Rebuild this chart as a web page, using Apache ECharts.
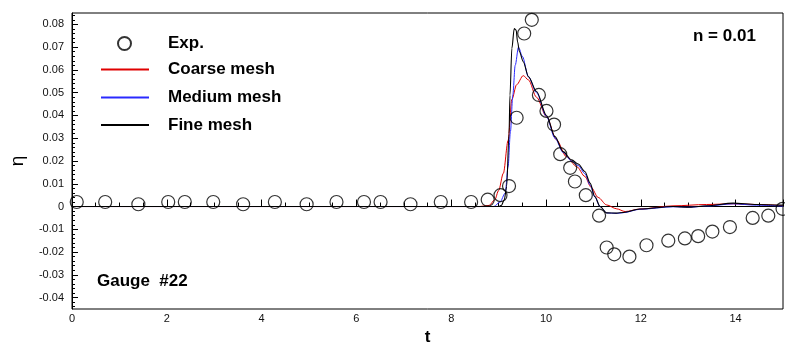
<!DOCTYPE html>
<html>
<head>
<meta charset="utf-8">
<script src="https://cdn.jsdelivr.net/npm/echarts@6/dist/echarts.min.js"></script>
<style>
  html, body { margin: 0; padding: 0; background: #fff; }
  #chart { width: 785px; height: 347px; }
</style>
</head>
<body>
<div id="chart"></div>
<script>
// Measured free-surface elevation at gauge #22
const expT = [0.1, 0.7, 1.4, 2.03, 2.38, 2.98, 3.61, 4.28, 4.95, 5.58, 6.16, 6.51, 7.14, 7.78, 8.42,
  8.77, 9.04, 9.22, 9.38, 9.54, 9.70, 9.85, 10.01, 10.17, 10.30, 10.51, 10.61, 10.84, 11.12,
  11.28, 11.44, 11.76, 12.12, 12.58, 12.93, 13.21, 13.51, 13.88, 14.36, 14.69, 14.99];
const expEta = [0.002, 0.002, 0.001, 0.002, 0.002, 0.002, 0.001, 0.002, 0.001, 0.002, 0.002, 0.002, 0.001, 0.002, 0.002,
  0.003, 0.005, 0.009, 0.039, 0.076, 0.082, 0.049, 0.042, 0.036, 0.023, 0.017, 0.011, 0.005, -0.004,
  -0.018, -0.021, -0.022, -0.017, -0.015, -0.014, -0.013, -0.011, -0.009, -0.005, -0.004, -0.001];

// Coarse mesh simulation
const coarseT = [0, 8.6, 8.8, 8.92, 9.0, 9.1, 9.2, 9.28, 9.38, 9.52, 9.63, 9.8, 10.01, 10.22, 10.43,
  10.65, 10.82, 10.95, 11.1, 11.28, 11.49, 11.67, 11.98, 12.68, 13.39, 13.95, 14.44, 15];
const coarseEta = [0, 0, 0.0005, 0.003, 0.007, 0.0146, 0.029, 0.047, 0.0535, 0.0575, 0.0556, 0.048, 0.0395, 0.0293, 0.0219,
  0.0175, 0.0132, 0.0085, 0.004, 0.0007, -0.001, -0.0022, -0.0011, 0.0003, 0.0009, 0.0012, 0.0009, 0.0004];

// Medium mesh simulation
const mediumT = [0, 8.9, 9.03, 9.14, 9.2, 9.25, 9.30, 9.35, 9.42, 9.5, 9.63, 9.8, 10.01, 10.19, 10.36,
  10.54, 10.68, 10.82, 10.93, 11.03, 11.14, 11.28, 11.49, 11.63, 11.98, 12.68, 13.03, 13.39, 13.95, 14.44, 15];
const mediumEta = [0, 0, 0.002, 0.0059, 0.0175, 0.033, 0.049, 0.062, 0.070, 0.066, 0.057, 0.050, 0.0395, 0.030, 0.0238,
  0.0200, 0.0180, 0.0145, 0.0095, 0.0042, 0.0, -0.0028, -0.003, -0.0027, -0.0012, -0.0001, -0.0003, 0.0002, 0.0012, 0.0006, 0.0002];

// Fine mesh simulation
const fineT = [0, 9.0, 9.06, 9.12, 9.17, 9.22, 9.24, 9.28, 9.33, 9.37, 9.40, 9.44, 9.52, 9.63, 9.8,
  10.01, 10.19, 10.36, 10.54, 10.68, 10.82, 10.93, 11.03, 11.14, 11.28, 11.49, 11.63, 11.98, 12.68,
  13.03, 13.39, 13.95, 14.44, 15];
const fineEta = [0, 0, 0.0005, 0.003, 0.0088, 0.032, 0.049, 0.0695, 0.0782, 0.0775, 0.0724, 0.068, 0.0636, 0.057, 0.0505,
  0.040, 0.0307, 0.0241, 0.0205, 0.0187, 0.0154, 0.0103, 0.0044, 0.0, -0.0028, -0.0029, -0.0026, -0.0011, 0.0,
  -0.0003, 0.0003, 0.0015, 0.0009, 0.0006];

// Axis ticks
const yTicks = [-0.04, -0.03, -0.02, -0.01, 0, 0.01, 0.02, 0.03, 0.04, 0.05, 0.06, 0.07, 0.08];
const yMinorStep = 0.002;
const xTicks = [0, 2, 4, 6, 8, 10, 12, 14];

const FONT = 'Liberation Sans, Arial, Helvetica, sans-serif';
const yMin = -0.045, yMax = 0.085;

const RED = '#e00000', BLUE = '#2a2aff', BLACK = '#000';

const pairs = (xs, ys) => xs.map((x, i) => [x, ys[i]]);

// minor tick positions between the labelled ones
const yMinor = [];
for (let v = Math.round(yMin / yMinorStep); v <= Math.round(yMax / yMinorStep); v++) {
  const val = +(v * yMinorStep).toFixed(4);
  if (Math.abs(val * 100 - Math.round(val * 100)) > 1e-6) yMinor.push(val);
}

const chart = echarts.init(document.getElementById('chart'), null, { renderer: 'canvas' });

const legendText = { fontFamily: FONT, fontSize: 17, fontWeight: 'bold', color: '#000' };
// line-only legend entries: the marker dot is made fully transparent
const lineLegend = (name, top) => ({
  left: 95, top: top, orient: 'vertical',
  itemWidth: 48, itemHeight: 14,
  data: [name],
  itemStyle: { opacity: 0 },
  textStyle: Object.assign({ padding: [0, 0, 0, 14] }, legendText)
});

const lineSeries = (name, xs, ys, color, width) => ({
  name: name, type: 'line', yAxisIndex: 0,
  data: pairs(xs, ys),
  showSymbol: false, symbol: 'none',
  smooth: 0.3, smoothMonotone: 'x',
  lineStyle: { color: color, width: width },
  itemStyle: { color: color }
});

chart.setOption({
  animation: false,
  backgroundColor: '#fff',
  grid: {
    left: 72, right: 2, top: 13, bottom: 38,
    outerBoundsMode: 'none', containLabel: false,
    show: true, borderColor: '#000', borderWidth: 1, backgroundColor: 'transparent'
  },
  legend: [
    {
      left: 112, top: 30, orient: 'vertical',
      itemWidth: 13, itemHeight: 13,
      data: [{ name: 'Exp.', icon: 'circle' }],
      textStyle: Object.assign({ padding: [0, 0, 0, 32] }, legendText)
    },
    lineLegend('Coarse mesh', 56),
    lineLegend('Medium mesh', 84),
    lineLegend('Fine mesh', 111.5)
  ],
  xAxis: {
    type: 'value',
    min: 0, max: 15, interval: 2,
    name: 't', nameLocation: 'middle', nameGap: 20,
    nameTextStyle: { fontFamily: FONT, fontSize: 17, fontWeight: 'bold', color: '#000' },
    axisLine: { show: true, lineStyle: { color: '#000', width: 1 } },
    axisTick: { show: true, inside: true, length: 7, lineStyle: { color: '#000' } },
    minorTick: { show: true, splitNumber: 4, length: 4, lineStyle: { color: '#000' } },
    axisLabel: { fontFamily: FONT, fontSize: 11, color: '#111', margin: 4, customValues: xTicks },
    splitLine: { show: false }
  },
  yAxis: [
    {
      type: 'value',
      min: yMin, max: yMax,
      name: 'η', nameLocation: 'middle', nameGap: 45, nameRotate: 90,
      nameTextStyle: { fontFamily: FONT, fontSize: 19, color: '#000' },
      axisLine: { show: true, lineStyle: { color: '#000', width: 1 } },
      axisTick: { show: true, inside: true, length: 6, customValues: yTicks, lineStyle: { color: '#000' } },
      axisLabel: {
        fontFamily: FONT, fontSize: 11, color: '#111', margin: 8, customValues: yTicks,
        formatter: v => (Math.abs(v) < 1e-9 ? '0' : (+v).toFixed(2))
      },
      splitLine: { show: false }
    },
    {
      type: 'value',
      position: 'left',
      min: yMin, max: yMax,
      axisLine: { show: false },
      axisTick: { show: true, inside: true, length: 3, customValues: yMinor, lineStyle: { color: '#000' } },
      axisLabel: { show: false },
      splitLine: { show: false }
    }
  ],
  graphic: [
    {
      type: 'text', left: 693, top: 28,
      style: { text: 'n = 0.01', font: 'bold 17px ' + FONT, fill: '#000' }
    },
    {
      type: 'text', left: 97, top: 273,
      style: { text: 'Gauge  #22', font: 'bold 17px ' + FONT, fill: '#000' }
    }
  ],
  series: [
    {
      name: 'Exp.', type: 'scatter', yAxisIndex: 0,
      data: pairs(expT, expEta),
      symbol: 'circle', symbolSize: 13,
      itemStyle: { color: 'rgba(255,255,255,0)', borderColor: '#000', borderWidth: 1.2 },
      z: 5
    },
    lineSeries('Coarse mesh', coarseT, coarseEta, RED, 1),
    lineSeries('Medium mesh', mediumT, mediumEta, BLUE, 1),
    lineSeries('Fine mesh', fineT, fineEta, BLACK, 1.1)
  ]
});
</script>
</body>
</html>
